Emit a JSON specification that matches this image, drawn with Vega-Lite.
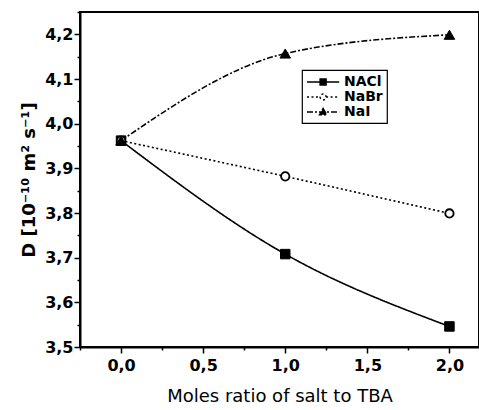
{
  "$schema": "https://vega.github.io/schema/vega-lite/v6.json",
  "width": 399,
  "height": 335,
  "autosize": "none",
  "padding": {"left": 80, "top": 12, "right": 0, "bottom": 63},
  "background": "white",
  "config": {
    "view": {"stroke": "black", "strokeWidth": 2},
    "font": "DejaVu Sans",
    "axis": {
      "domainColor": "black", "domainWidth": 2, "tickColor": "black", "tickWidth": 1.5, "tickSize": 6,
      "labelColor": "black", "labelFont": "DejaVu Sans", "labelFontSize": 16, "labelFontWeight": "bold",
      "titleColor": "black", "titleFont": "DejaVu Sans", "titleFontSize": 18, "titleFontWeight": "normal", "grid": false
    }
  },
  "data": {"values": [
    {"x": 0, "D": 3.962, "salt": "NACl"},
    {"x": 1, "D": 3.708, "salt": "NACl"},
    {"x": 2, "D": 3.546, "salt": "NACl"},
    {"x": 0, "D": 3.962, "salt": "NaBr"},
    {"x": 1, "D": 3.882, "salt": "NaBr"},
    {"x": 2, "D": 3.799, "salt": "NaBr"},
    {"x": 0, "D": 3.962, "salt": "NaI"},
    {"x": 1, "D": 4.157, "salt": "NaI"},
    {"x": 2, "D": 4.199, "salt": "NaI"}
  ]},
  "resolve": {"axis": {"x": "independent", "y": "independent"}},
  "layer": [
    {
      "mark": {"type": "line", "interpolate": "monotone", "color": "black", "strokeWidth": 1.6},
      "encoding": {
        "x": {"field": "x", "type": "quantitative", "scale": {"domain": [-0.25, 2.18], "nice": false, "zero": false},
          "axis": {"values": [0, 0.5, 1, 1.5, 2], "title": "Moles ratio of salt to TBA", "titlePadding": 14, "labelPadding": 4,
            "labelExpr": "replace(format(datum.value, '.1f'), '.', ',')"}},
        "y": {"field": "D", "type": "quantitative", "scale": {"domain": [3.5, 4.25], "nice": false, "zero": false},
          "axis": {"values": [3.5, 3.6, 3.7, 3.8, 3.9, 4.0, 4.1, 4.2], "title": "D [10⁻¹⁰ m² s⁻¹]", "titleFontWeight": "bold", "titleFontSize": 18, "titlePadding": 6, "labelPadding": 1,
            "labelExpr": "replace(format(datum.value, '.1f'), '.', ',')"}},
        "strokeDash": {"field": "salt", "type": "nominal",
          "scale": {"domain": ["NACl", "NaBr", "NaI"], "range": [[1, 0], [2, 2.5], [6, 2, 2, 2]]},
          "legend": {
            "title": null, "orient": "none", "legendX": 222, "legendY": 58,
            "strokeColor": "black", "padding": 4, "rowPadding": 0,
            "labelFont": "DejaVu Sans", "labelFontSize": 14, "labelFontWeight": "bold", "labelColor": "black", "labelOffset": 22,
            "symbolSize": 196, "symbolStrokeWidth": 1.4, "symbolStrokeColor": "black",
            "encode": {
              "legend": {"update": {"strokeWidth": {"value": 1.2}}},
              "symbols": {"update": {
                "shape": {"signal": "datum.value == 'NACl' ? 'M-1,0H3.6M0.87,-0.43H1.73V0.43H0.87Z' : datum.value == 'NaBr' ? 'M-1,0H0.87M1.73,0H3.6M0.87,0A0.43,0.43,0,1,0,1.73,0A0.43,0.43,0,1,0,0.87,0Z' : 'M-1,0H3.6M1.3,-0.5L1.82,0.4H0.78Z'"},
                "fill": {"signal": "datum.value == 'NaBr' ? 'white' : 'black'"},
                "stroke": {"value": "black"}
              }}
            }
          }}
      }
    },
    {
      "transform": [{"filter": "datum.salt == 'NACl'"}],
      "mark": {"type": "point", "shape": "square", "filled": true, "fill": "black", "stroke": "black", "strokeWidth": 1, "size": 90, "opacity": 1},
      "encoding": {
        "x": {"field": "x", "type": "quantitative", "axis": null},
        "y": {"field": "D", "type": "quantitative", "axis": null}
      }
    },
    {
      "transform": [{"filter": "datum.salt == 'NaBr'"}],
      "mark": {"type": "point", "shape": "circle", "filled": true, "fill": "white", "stroke": "black", "strokeWidth": 1.8, "size": 70, "opacity": 1},
      "encoding": {
        "x": {"field": "x", "type": "quantitative", "axis": null},
        "y": {"field": "D", "type": "quantitative", "axis": null}
      }
    },
    {
      "transform": [{"filter": "datum.salt == 'NaI'"}],
      "mark": {"type": "point", "shape": "triangle-up", "filled": true, "fill": "black", "stroke": "black", "strokeWidth": 1, "size": 110, "opacity": 1},
      "encoding": {
        "x": {"field": "x", "type": "quantitative", "axis": null},
        "y": {"field": "D", "type": "quantitative", "axis": null}
      }
    },
    {
      "mark": {"type": "point", "opacity": 0},
      "encoding": {
        "x": {"field": "x", "type": "quantitative",
          "axis": {"orient": "bottom", "values": [-0.25, 0.25, 0.75, 1.25, 1.75], "labels": false, "domain": false, "tickSize": 3, "title": null}},
        "y": {"field": "D", "type": "quantitative",
          "axis": {"orient": "left", "values": [3.55, 3.65, 3.75, 3.85, 3.95, 4.05, 4.15, 4.25], "labels": false, "domain": false, "tickSize": 3, "title": null}}
      }
    }
  ]
}
